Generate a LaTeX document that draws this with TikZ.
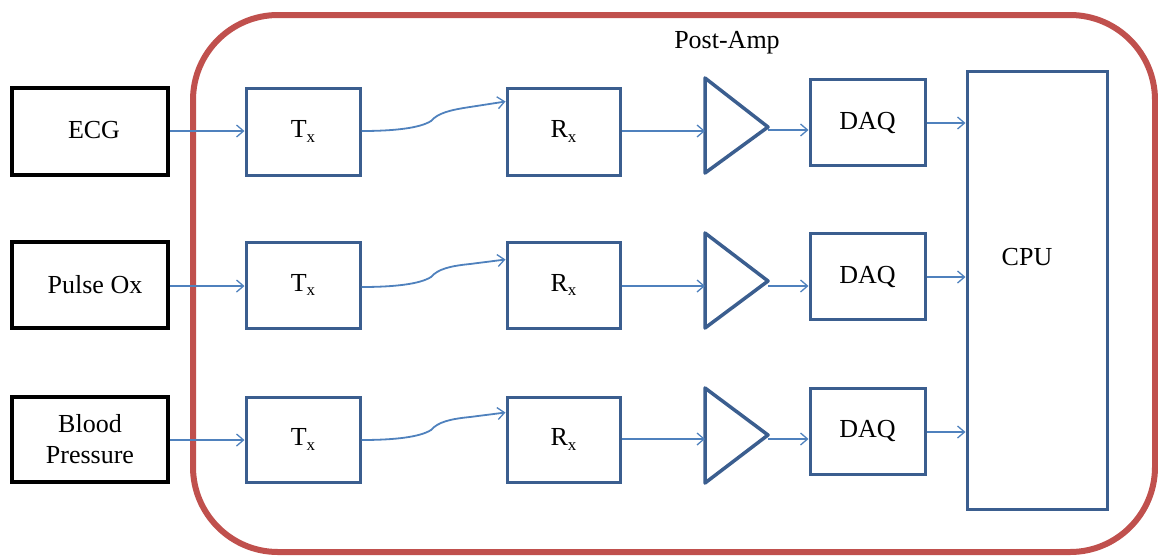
\documentclass[tikz,border=0pt]{standalone}
\usepackage{fontspec}
\setmainfont{Liberation Serif}
\usetikzlibrary{arrows.meta,calc}
\definecolor{boxblue}{RGB}{59,94,143}
\definecolor{linkblue}{RGB}{79,129,189}
\definecolor{frame}{RGB}{192,80,77}
\newcommand{\subx}[1]{#1\raisebox{-0.4ex}{\fontsize{17}{17}\selectfont x}}
\begin{document}
\begin{tikzpicture}[x=1pt,y=-1pt,
  txt/.style={font=\fontsize{26}{31}\selectfont, align=center, inner sep=0pt},
  srcbox/.style={draw=black, line width=3.5pt, minimum width=156pt, inner sep=0pt, txt},
  bluebox/.style={draw=boxblue, line width=3pt, inner sep=0pt, txt},
  ampshape/.style={draw=boxblue, line width=3.5pt, line join=round},
  link/.style={draw=linkblue, line width=1.8pt, -{Straight Barb[length=7pt,width=12pt,line width=1.3pt]}},
  wave/.style={link}]
\useasboundingbox (0,0) rectangle (1158,555);
% frame
\draw[frame, line width=6pt, rounded corners=85pt] (193,15) rectangle (1155,552);
\node[txt] (postamp) at (727,43) {Post-Amp};
% sources
\node[srcbox, minimum height=87pt] (ecg) at (90,131.5) {\raisebox{3pt}{\hspace*{8pt}ECG}};
\node[srcbox, minimum height=86pt] (pulse) at (90,285) {\hspace*{10pt}Pulse Ox};
\node[srcbox, minimum height=85pt] (bp) at (90,439.5) {Blood\\Pressure};
% Tx
\node[bluebox, minimum width=114pt, minimum height=87pt] (tx1) at (303,131.5) {\subx{T}};
\node[bluebox, minimum width=114pt, minimum height=86pt] (tx2) at (303,285) {\subx{T}};
\node[bluebox, minimum width=114pt, minimum height=85pt] (tx3) at (303,439.5) {\subx{T}};
% Rx
\node[bluebox, minimum width=113pt, minimum height=87pt] (rx1) at (563.5,131.5) {\subx{R}};
\node[bluebox, minimum width=113pt, minimum height=86pt] (rx2) at (563.5,285) {\subx{R}};
\node[bluebox, minimum width=113pt, minimum height=85pt] (rx3) at (563.5,439.5) {\subx{R}};
% amplifiers
\draw[ampshape] (705,78) -- (768,127) -- (705,173) -- cycle;
\draw[ampshape] (705,233) -- (768,281) -- (705,328) -- cycle;
\draw[ampshape] (705,388) -- (768,435) -- (705,483) -- cycle;
\coordinate (a1in) at (705,131); \coordinate (a1out) at (768,130);
\coordinate (a2in) at (705,286); \coordinate (a2out) at (768,286);
\coordinate (a3in) at (705,439); \coordinate (a3out) at (768,439);
% DAQ
\node[bluebox, minimum width=115pt, minimum height=86pt] (daq1) at (867.5,122.5) {DAQ};
\node[bluebox, minimum width=115pt, minimum height=86pt] (daq2) at (867.5,276.5) {DAQ};
\node[bluebox, minimum width=115pt, minimum height=86pt] (daq3) at (867.5,431) {DAQ};
% CPU
\node[bluebox, minimum width=140pt, minimum height=438pt] (cpu) at (1037,290) {};
\node[txt] (cputext) at (1027,257) {CPU};
% links: sources to Tx
\draw[link] (ecg.east |- 0,131) -- (tx1.west |- 0,131);
\draw[link] (pulse.east |- 0,286) -- (tx2.west |- 0,286);
\draw[link] (bp.east |- 0,440) -- (tx3.west |- 0,440);
% wireless links Tx to Rx
\draw[wave] (tx1.east |- 0,131) .. controls (395,131) and (420,128) .. (431,121)
  .. controls (438,113) and (450,110) .. (470,107) -- ($(rx1.north west)+(0,15)$);
\draw[wave] (tx2.east |- 0,287) .. controls (395,287) and (420,284) .. (431,277)
  .. controls (438,269) and (450,266) .. (470,264) -- ($(rx2.north west)+(0,19)$);
\draw[wave] (tx3.east |- 0,440) .. controls (395,440) and (420,437) .. (431,430)
  .. controls (438,422) and (450,419) .. (470,417) -- ($(rx3.north west)+(0,17)$);
% Rx to amp
\draw[link] (rx1.east |- a1in) -- (a1in);
\draw[link] (rx2.east |- a2in) -- (a2in);
\draw[link] (rx3.east |- a3in) -- (a3in);
% amp to DAQ
\draw[link] (a1out) -- (daq1.west |- a1out);
\draw[link] (a2out) -- (daq2.west |- a2out);
\draw[link] (a3out) -- (daq3.west |- a3out);
% DAQ to CPU
\draw[link] (daq1.east |- 0,123) -- (cpu.west |- 0,123);
\draw[link] (daq2.east |- 0,277) -- (cpu.west |- 0,277);
\draw[link] (daq3.east |- 0,432) -- (cpu.west |- 0,432);
\end{tikzpicture}
\end{document}
